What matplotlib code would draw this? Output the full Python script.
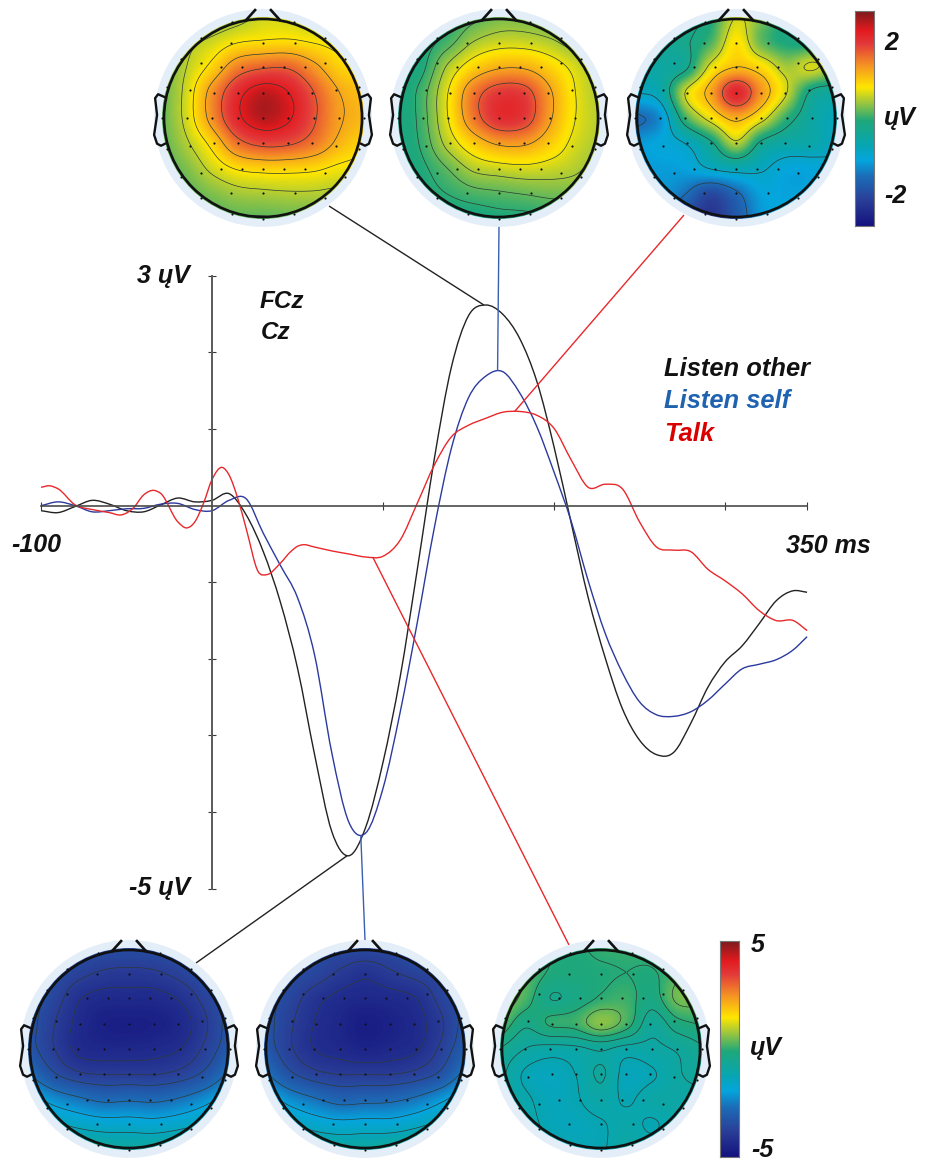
import numpy as np
import matplotlib
matplotlib.use("Agg")
import matplotlib.pyplot as plt
from matplotlib.colors import LinearSegmentedColormap
from matplotlib.patches import Circle, PathPatch
from matplotlib.path import Path

W, H = 929, 1162

# ERP curves, ms and uV
other_t = [-100, -90, -80, -70, -60, -50, -40, -30, -20, -10, 0, 10, 20, 30, 40, 50, 60, 70, 80, 90,
           100, 110, 120, 130, 140, 150, 160, 170, 180, 190, 200, 210, 220, 230, 240, 250, 260, 270,
           280, 290, 300, 310, 320, 330, 340, 348]
other_v = [-0.065, -0.09, -0.01, 0.07, 0.02, -0.065, -0.08, 0.01, 0.10, 0.05, 0.07, 0.157, -0.12, -0.60,
           -1.26, -2.12, -3.25, -4.25, -4.57, -4.19, -3.35, -2.24, -0.84, 0.61, 1.81, 2.48, 2.62, 2.50,
           2.18, 1.62, 0.77, -0.22, -1.2, -1.99, -2.65, -3.06, -3.25, -3.22, -2.84, -2.37, -2.04, -1.83,
           -1.54, -1.24, -1.11, -1.13]
self_t = other_t
self_v = [0.0, 0.05, 0.0, -0.08, -0.065, -0.04, -0.035, 0.02, 0.03, -0.05, -0.065, 0.07, 0.09, -0.36,
          -0.78, -1.2, -1.95, -3.22, -4.13, -4.27, -3.69, -2.7, -1.53, -0.29, 0.75, 1.41, 1.69, 1.75,
          1.47, 1.03, 0.44, -0.2, -0.98, -1.67, -2.18, -2.56, -2.73, -2.75, -2.69, -2.54, -2.33, -2.13,
          -2.07, -2.01, -1.88, -1.71]
talk_t = [-100, -95, -90, -80, -70, -60, -53, -46, -40, -34, -30, -20, -15, -10, -5, 0, 6, 10, 15, 20, 27,
          32, 40, 46, 50, 53, 60, 70, 80, 90, 100, 110, 120, 130, 140, 150, 160, 170, 180, 190, 200, 210,
          220, 230, 240, 250, 260, 270, 280, 290, 300, 310, 320, 330, 340, 348]
talk_v = [0.24, 0.26, 0.22, 0.01, -0.05, -0.09, -0.12, -0.03, 0.14, 0.20, 0.16, -0.21, -0.29, -0.21, 0.03,
          0.34, 0.50, 0.40, 0.10, -0.30, -0.86, -0.90, -0.75, -0.60, -0.53, -0.51, -0.54, -0.59, -0.63,
          -0.67, -0.66, -0.45, 0.03, 0.53, 0.90, 1.05, 1.14, 1.22, 1.23, 1.18, 1.01, 0.6, 0.24, 0.28, 0.22,
          -0.21, -0.54, -0.58, -0.6, -0.83, -0.98, -1.15, -1.37, -1.50, -1.50, -1.63]

x_ticks = [-100, 100, 200, 300, 348]
y_ticks = [-5, -4, -3, -2, -1, 1, 2, 3]

# scalp maps, uV on a 9x9 grid, top row is the front of the head
top_other = [[.15, .2, .27, .4, .6, .6, .47, .4, .3],
             [.2, .45, .62, .82, .88, .9, .82, .72, .65],
             [.2, .55, .95, 1.5, 1.7, 1.7, 1.35, .97, .87],
             [.18, .65, 1.4, 2.1, 2.45, 2.25, 1.75, 1.25, 1.05],
             [.18, .65, 1.4, 2.15, 2.5, 2.3, 1.8, 1.3, 1.1],
             [.15, .5, .95, 1.6, 1.85, 1.8, 1.55, 1.15, .9],
             [.1, .3, .62, .87, .95, .95, .9, .77, .72],
             [.05, .15, .3, .43, .47, .5, .5, .47, .47],
             [.0, .05, .1, .15, .15, .18, .2, .27, .3]]
top_self = [[-.2, -.15, -.05, .1, .25, .25, .15, .1, .05],
            [-.2, -.1, .1, .45, .6, .6, .5, .3, .15],
            [-.2, -.05, .5, .95, 1.2, 1.2, .95, .65, .4],
            [-.2, .1, .75, 1.55, 1.95, 1.9, 1.3, .75, .45],
            [-.2, .1, .75, 1.55, 2.05, 1.95, 1.3, .75, .5],
            [-.2, .05, .55, 1.0, 1.3, 1.3, 1.0, .65, .45],
            [-.2, -.05, .2, .5, .6, .65, .6, .5, .3],
            [-.2, -.1, .0, .1, .15, .2, .25, .25, .2],
            [-.2, -.2, -.15, -.15, -.1, -.1, -.05, .0, .05]]
top_talk = [[-.3, -.3, -.3, -.1, .6, .3, -.1, -.1, .0],
            [-.4, -.35, -.25, .1, .85, .2, -.1, -.1, .3],
            [-.5, -.5, -.3, .7, 1.1, .9, .45, .65, .3],
            [-.85, -.65, .6, 1.25, 2.15, 1.35, .6, -.3, -.45],
            [-1.6, -1.25, .05, .75, 1.2, .75, .0, -.5, -.8],
            [-1.2, -1.05, -.85, -.3, .5, -.3, -.55, -.6, -.85],
            [-1.15, -1.15, -1.1, -.85, -.7, -.8, -1.05, -1.05, -.85],
            [-1.3, -1.2, -1.5, -2.0, -1.6, -1.1, -1.1, -1.05, -.8],
            [-1.5, -1.5, -2.0, -2.3, -1.8, -1.2, -1.0, -.9, -.7]]
bottom_other = [[-3.1, -3.2, -3.3, -3.4, -3.4, -3.4, -3.3, -3.2, -3.1],
                [-3.2, -3.4, -3.7, -3.9, -3.95, -3.9, -3.7, -3.4, -3.2],
                [-3.2, -3.6, -4.15, -4.35, -4.35, -4.35, -4.15, -3.7, -3.2],
                [-3.2, -3.8, -4.3, -4.6, -4.65, -4.6, -4.4, -3.9, -3.2],
                [-3.2, -3.8, -4.3, -4.4, -4.4, -4.35, -4.2, -3.75, -3.1],
                [-2.6, -3.35, -3.75, -3.85, -3.85, -3.85, -3.7, -3.3, -2.5],
                [-1.6, -2.2, -2.55, -2.8, -2.75, -2.8, -2.6, -2.2, -1.6],
                [-1, -1.25, -1.5, -1.65, -1.65, -1.7, -1.55, -1.3, -1.0],
                [-.4, -.5, -.65, -.75, -.8, -.75, -.65, -.5, -.4]]
bottom_self = [[-3.1, -3.2, -3.4, -3.5, -3.5, -3.5, -3.3, -3.2, -3.1],
               [-3.2, -3.4, -3.6, -3.9, -4.1, -3.9, -3.7, -3.5, -3.2],
               [-3.2, -3.6, -4.05, -4.3, -4.4, -4.35, -4.2, -3.7, -3.2],
               [-3.2, -3.75, -4.2, -4.45, -4.7, -4.55, -4.35, -3.9, -3.2],
               [-3.1, -3.75, -4.2, -4.35, -4.5, -4.4, -4.25, -3.75, -3.0],
               [-2.5, -3.3, -3.7, -3.85, -3.85, -3.85, -3.7, -3.3, -2.4],
               [-1.6, -2.2, -2.6, -2.9, -2.85, -2.8, -2.55, -2.1, -1.5],
               [-1, -1.3, -1.6, -1.75, -1.7, -1.7, -1.5, -1.2, -.9],
               [-.4, -.5, -.7, -.8, -.8, -.7, -.6, -.45, -.3]]
bottom_talk = [[.5, .5, .0, -.1, .05, .1, .2, .5, .6],
               [.6, .35, -.1, -.15, -.1, -.05, -.1, .3, .7],
               [.8, .2, -.45, -.3, .0, .1, -.25, .45, .5],
               [.4, -.35, .0, .1, .6, .15, -.7, -.2, .0],
               [-.45, -.85, -1.0, -.95, -.8, -1.0, -.95, -.8, -.5],
               [-.7, -1.25, -1.4, -1.2, -.8, -1.35, -1.25, -.9, -.7],
               [-.7, -1.1, -1.35, -1.25, -1.0, -1.25, -1.0, -.95, -.95],
               [-.7, -1, -1.3, -1.35, -1.25, -1.05, -1.25, -.95, -.7],
               [-.7, -.9, -1.1, -1.25, -1.25, -.95, -.95, -.85, -.7]]

top_limit = 2.8
bottom_limit = 5
other_levels = [.2, .55, .85, 1.25, 1.75, 2.25]
self_levels = [.0, .2, .45, .75, 1.25, 1.75]
talk_levels = [-1.5, -.85, -.2, .6, 1.1, 1.75]
bottom_levels = [-4.2, -3.85, -3.45, -2.7, -2.0, -1.4]
bottom_talk_levels = [-1.2, -.85, -.45, -.05, .35]

# electrode layout, fractions of the head radius
rows_y = [.973, .805, .761, .593, .552, .512, .31, .283, .256, 0, -.256, -.283, -.31, -.512, -.552, -.593,
          -.761, -.805, -.973, -1.02]
rows_x = [[-.316, .316], [-.63, .63], [-.323, 0, .323], [-.83, .83], [-.63, .63], [-.424, -.212, 0, .212, .424],
          [-.973, .973], [-.737, .737], [-.492, -.249, 0, .25, .495],
          [-1.02, -.771, -.519, -.256, 0, .256, .512, .768, 1.02],
          [-.492, -.249, 0, .25, .495], [-.737, .737], [-.973, .973],
          [-.424, -.212, 0, .212, .424], [-.63, .63], [-.83, .83], [-.323, 0, .323], [-.63, .63], [-.316, .316], [0]]

plt.rcParams['font.family'] = ['Liberation Sans', 'DejaVu Sans']

cmap = LinearSegmentedColormap.from_list('erp', [
    (0.0, '#14137f'), (.12, '#2a3f98'), (.23, '#1c6db8'), (.305, '#05a5de'), (.38, '#08a6b0'),
    (.49, '#1fa87a'), (.58, '#a5c93a'), (.646, '#ffe600'), (.75, '#f59125'), (.85, '#e2383a'),
    (.91, '#e31b1f'), (1.0, '#7d1a1c')])

fig = plt.figure(figsize=(W / 100, H / 100), dpi=100)

# main axes fills the figure, one ms = 1.71 px and one uV = 76.6 px
zero_x, zero_y = 212, 505.7
ax = fig.add_axes([0, 0, 1, 1])
ax.set_xlim(-zero_x / 1.71, (W - zero_x) / 1.71)
ax.set_ylim((zero_y - H) / 76.6, zero_y / 76.6)
ax.patch.set_alpha(0)
for s in ['top', 'right']:
    ax.spines[s].set_visible(False)
ax.spines['left'].set_position(('data', 0))
ax.spines['bottom'].set_position(('data', 0))
ax.spines['left'].set_bounds(-5, 3)
ax.spines['bottom'].set_bounds(-100, 348)
ax.spines['left'].set_linewidth(1.4)
ax.spines['bottom'].set_linewidth(1.2)
ax.spines['left'].set_color('#5a5a5a')
ax.spines['bottom'].set_color('#4a4a4a')
ax.set_xticks(x_ticks)
ax.set_yticks(y_ticks)
ax.tick_params(direction='inout', length=6, width=0.8, color='#3a3a3a', labelbottom=False, labelleft=False)


def curve(t, v, color):
    # smooth path through the read points
    t, v = np.array(t, float), np.array(v, float)
    m = np.gradient(v, t)
    verts = [(t[0], v[0])]
    codes = [Path.MOVETO]
    for i in range(len(t) - 1):
        dt = (t[i + 1] - t[i]) / 3
        verts += [(t[i] + dt, v[i] + m[i] * dt), (t[i + 1] - dt, v[i + 1] - m[i + 1] * dt), (t[i + 1], v[i + 1])]
        codes += [Path.CURVE4] * 3
    ax.add_patch(PathPatch(Path(verts, codes), fill=False, edgecolor=color, linewidth=1.0))


def to_data(px, py):
    return (px - zero_x) / 1.71, (zero_y - py) / 76.6


def connector(start, t, v, color):
    x0, y0 = to_data(*start)
    ax.plot([x0, t], [y0, v], color=color, lw=1.0, solid_capstyle='butt')


curve(other_t, other_v, '#222222')
curve(self_t, self_v, '#2b3a9e')
curve(talk_t, talk_v, '#e8282b')

connector((329, 206), 159, 2.62, '#222222')
connector((499, 226), 167, 1.76, '#3a5fb0')
connector((684, 215), 177, 1.23, '#e8282b')
connector((196, 963), 79, -4.57, '#222222')
connector((365, 940), 87, -4.3, '#3a5fb0')
connector((569, 945), 94, -0.67, '#e8282b')


def upsample(row):
    u = np.linspace(0, len(row) - 1, 181)
    i = np.minimum(u.astype(int), len(row) - 2)
    s = u - i
    m = np.gradient(row)
    return ((2 * s**3 - 3 * s**2 + 1) * row[i] + (s**3 - 2 * s**2 + s) * m[i]
            + (-2 * s**3 + 3 * s**2) * row[i + 1] + (s**3 - s**2) * m[i + 1])


def topomap(cx, cy, values, limit, levels):
    R = 115
    a = fig.add_axes([(cx - R) / W, 1 - (cy + R) / H, 2 * R / W, 2 * R / H])
    a.set_xlim(-R / 99, R / 99)
    a.set_ylim(-R / 99, R / 99)
    a.axis('off')
    a.add_patch(Circle((0, 0), 1.10, color='#e4eef8', lw=0))
    z = np.apply_along_axis(upsample, 1, np.array(values, float))
    z = np.apply_along_axis(upsample, 0, z)[::-1]
    g = np.linspace(-1.03, 1.03, 181)
    im = a.imshow(z, extent=[-1.03, 1.03, -1.03, 1.03], origin='lower', cmap=cmap, vmin=-limit, vmax=limit,
                  interpolation='bilinear', zorder=2)
    im.set_clip_path(Circle((0, 0), 1.02, transform=a.transData))
    cs = a.contour(g, g, z, levels=levels, colors='#2c3a34', linewidths=0.5, linestyles='solid', zorder=3)
    cs.set_clip_path(Circle((0, 0), 1.0, transform=a.transData))
    a.add_patch(Circle((0, 0), 1.0, fill=False, edgecolor='#111111', lw=1.9, zorder=4))
    a.plot([-.17, -.08], [.99, 1.09], color='#111111', lw=1.9, zorder=4)
    a.plot([.17, .08], [.99, 1.09], color='#111111', lw=1.9, zorder=4)
    ear_x = np.array([.99, 1.06, 1.09, 1.07, 1.10, 1.07, 1.03, .99])
    ear_y = [.21, .24, .2, .03, -.17, -.26, -.28, -.26]
    a.plot(ear_x, ear_y, color='#111111', lw=1.7, zorder=4)
    a.plot(-ear_x, ear_y, color='#111111', lw=1.7, zorder=4)
    for y, xs in zip(rows_y, rows_x):
        a.scatter(xs, [y] * len(xs), s=2.5, color='#111111', lw=0, zorder=5, clip_on=False)


def colorbar(x0, x1, y0, y1):
    b = fig.add_axes([x0 / W, 1 - y1 / H, (x1 - x0) / W, (y1 - y0) / H])
    b.imshow(np.linspace(0, 1, 256)[:, None], origin='lower', aspect='auto', cmap=cmap, vmin=0, vmax=1)
    b.set_xticks([])
    b.set_yticks([])
    for s in b.spines.values():
        s.set_color('#777777')
        s.set_linewidth(0.8)


topomap(263, 118, top_other, top_limit, other_levels)
topomap(499, 118, top_self, top_limit, self_levels)
topomap(736, 118, top_talk, top_limit, talk_levels)
topomap(129, 1049, bottom_other, bottom_limit, bottom_levels)
topomap(365, 1049, bottom_self, bottom_limit, bottom_levels)
topomap(601, 1049, bottom_talk, bottom_limit, bottom_talk_levels)
colorbar(855, 874, 11, 226)
colorbar(720, 739, 941, 1157)


def label(x, y, s, color='#111111', size=18, ha='left'):
    fig.text(x / W, 1 - y / H, s, color=color, fontsize=size, fontweight='bold', fontstyle='italic',
             ha=ha, va='baseline')


label(190, 283, '3 ųV', ha='right')
label(190, 895, '-5 ųV', ha='right')
label(11, 552, '-100')
label(786, 553, '350 ms')
label(260, 308, 'FCz', size=17.5)
label(261, 339, 'Cz', size=17.5)
label(664, 376, 'Listen other', size=18.4)
label(664, 408, 'Listen self', color='#1f63b0', size=18.4)
label(664, 441, 'Talk', color='#d90000', size=18.4)
label(884, 50, '2')
label(884, 125, 'ųV')
label(884, 203, '-2')
label(751, 952, '5')
label(750, 1055, 'ųV')
label(751, 1157, '-5')

fig.savefig('out.png', dpi=100)
